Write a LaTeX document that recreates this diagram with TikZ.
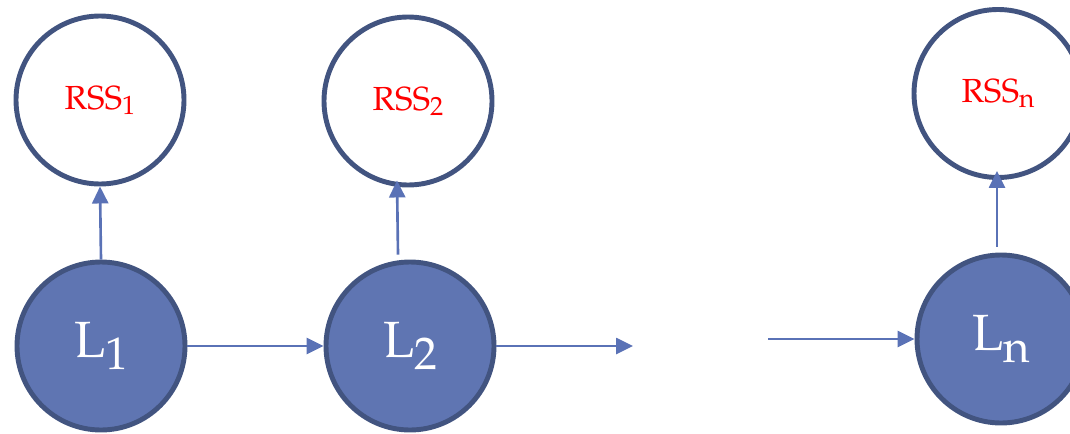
\documentclass[tikz,border=0pt]{standalone}
\usepackage[T1]{fontenc}
\usepackage{mathpazo}
\usepackage{tikz}
\usetikzlibrary{arrows.meta}
\definecolor{nodeblue}{RGB}{95,117,178}
\definecolor{rimblue}{RGB}{66,84,128}
\definecolor{edgeblue}{RGB}{90,114,182}
\tikzset{
  obs/.style={circle,draw=rimblue,line width=2.8pt,fill=white,minimum size=3.36cm,
    inner sep=0pt,text=red,font=\fontsize{19}{22}\selectfont},
  hid/.style={circle,draw=rimblue,line width=2.8pt,fill=nodeblue,minimum size=3.36cm,
    inner sep=0pt,text=white,font=\fontsize{29}{32}\selectfont},
  link/.style={edgeblue,line width=1.5pt,-{Triangle[length=0.34cm,width=0.32cm]}},
}
% labels with a lowered index
\newcommand{\rsslab}[1]{RSS\raisebox{-0.1cm}{\fontsize{15}{15}\selectfont #1}}
\newcommand{\loclab}[1]{L\raisebox{-0.24cm}{\fontsize{26}{26}\selectfont #1}}

\begin{document}
\begin{tikzpicture}
  \useasboundingbox (0,0) rectangle (21.4,-8.66);
  % observed RSS and hidden locations
  \node[obs] (rss1) at (2.0,-2.0) {\rsslab{1}};
  \node[hid] (loc1) at (2.02,-6.92) {\loclab{1}};
  \node[obs] (rss2) at (8.16,-2.02) {\rsslab{2}};
  \node[hid] (loc2) at (8.2,-6.92) {\loclab{2}};
  \node[obs] (rssn) at (19.96,-1.87) {\rsslab{n}};
  \node[hid] (locn) at (20.02,-6.78) {\loclab{n}};
  \coordinate (gapin) at (12.66,-6.92);
  \coordinate (gapout) at (15.36,-6.78);
  % transitions
  \draw[link] (loc1) -- (loc2);
  \draw[link] (loc2) -- (gapin);
  \draw[link] (gapout) -- (locn);
  % emissions
  \draw[link] (loc1.north) -- (rss1.south);
  \draw[link] ([shift={(-0.24,0.1)}]loc2.north) -- ([shift={(-0.22,0.14)}]rss2.south);
  \draw[link] ([shift={(-0.08,0.12)}]locn.north) -- ([shift={(-0.02,0.18)}]rssn.south);
\end{tikzpicture}
\end{document}
